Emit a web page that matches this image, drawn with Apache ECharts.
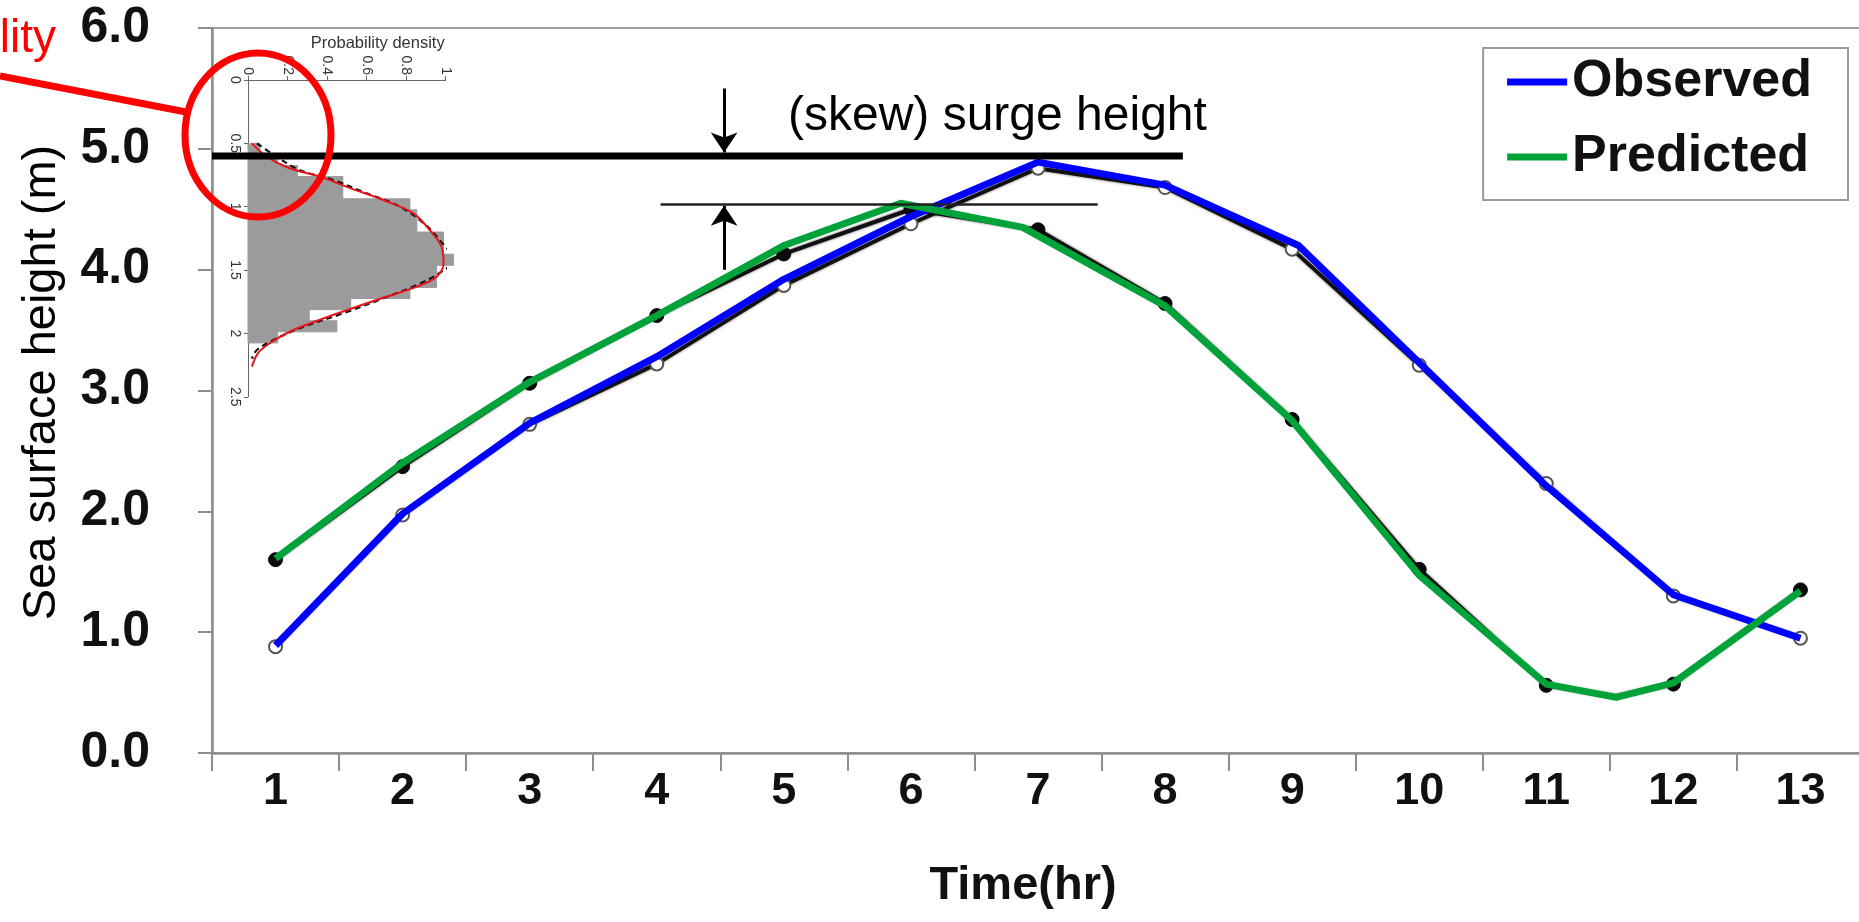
<!DOCTYPE html>
<html>
<head>
<meta charset="utf-8">
<title>Sea surface height</title>
<script src="https://cdn.jsdelivr.net/npm/echarts@6.0.0/dist/echarts.min.js"></script>
<style>
  html, body { margin: 0; padding: 0; background: #fff; }
  #chart { width: 1859px; height: 922px; }
</style>
</head>
<body>
<div id="chart"></div>
<script>
// Hours on the time axis
const hours = ['1', '2', '3', '4', '5', '6', '7', '8', '9', '10', '11', '12', '13'];

// Sea surface height (m) at each hour
const observedPts = [0.88, 1.97, 2.72, 3.22, 3.87, 4.38, 4.84, 4.68, 4.17, 3.21, 2.23, 1.30, 0.95];
const predictedPts = [1.60, 2.37, 3.06, 3.62, 4.13, 4.50, 4.33, 3.72, 2.76, 1.52, 0.56, 0.57, 1.35];
// trough of the predicted curve between hours 11 and 12
const predictedTrough = [11.55, 0.47];

// Coloured traces drawn over the markers: [hour, height]
const observedTrace = [[1, 0.89], [2, 1.98], [3, 2.73], [4, 3.28], [5, 3.92], [6, 4.44], [7, 4.89],
  [8, 4.70], [9.05, 4.20], [10, 3.23], [11, 2.21], [12, 1.31], [13, 0.95]];
const predictedTrace = [[1, 1.61], [2, 2.40], [3, 3.07], [4, 3.62], [5, 4.20], [5.92, 4.55], [6.88, 4.35],
  [8, 3.70], [9, 2.75], [10, 1.47], [11, 0.57], [11.55, 0.46], [12, 0.58], [13, 1.34]];

// Surge levels (m) and their extent along the time axis
const peakLevel = 4.94;
const peakSpan = [0.5, 8.14];
const predictedPeakLevel = 4.54;
const predictedPeakSpan = [4.03, 7.47];
const arrowHour = 4.53;
const arrowDown = [5.50, 4.97];
const arrowUp = [4.00, 4.53];

// Inset: histogram of peak heights (bin edges in m, density) and fitted curves [density, m]
const binEdges = [0.5, 0.5875, 0.675, 0.7625, 0.85, 0.9375, 1.025, 1.1125, 1.2, 1.2875, 1.375,
  1.4625, 1.55, 1.6375, 1.725, 1.8125, 1.9, 1.9875, 2.075];
const binDensity = [0.06, 0.15, 0.25, 0.48, 0.48, 0.82, 0.855, 0.855, 0.99, 0.99, 1.04,
  0.955, 0.955, 0.82, 0.52, 0.31, 0.45, 0.15];
const skewFit = [[0.02, 0.5], [0.095, 0.605], [0.21, 0.697], [0.365, 0.763], [0.52, 0.855],
  [0.685, 0.947], [0.837, 1.052], [0.92, 1.184], [0.98, 1.316], [0.99, 1.447], [0.955, 1.552],
  [0.855, 1.631], [0.65, 1.736], [0.43, 1.855], [0.23, 1.973], [0.11, 2.078], [0.05, 2.157], [0.02, 2.262]];
const normalFit = [[0.045, 0.5], [0.145, 0.605], [0.26, 0.71], [0.43, 0.789], [0.6, 0.894],
  [0.77, 1.0], [0.89, 1.131], [0.97, 1.263], [1.04, 1.421], [0.98, 1.513], [0.855, 1.618],
  [0.685, 1.723], [0.48, 1.842], [0.26, 1.96], [0.13, 2.052], [0.045, 2.131], [0.02, 2.2]];

const FONT = "'Liberation Sans', Arial, Helvetica, sans-serif";
const AXIS_GRAY = '#8e8e8e';

const bins = binDensity.map((d, i) => [binEdges[i], binEdges[i + 1], d]);

// predicted markers, with the unmarked trough vertex inserted after hour 11
const predictedMarkers = predictedPts.map((v, i) => [i + 1, v]);
predictedMarkers.splice(11, 0, { value: predictedTrough, symbol: 'none' });

const chart = echarts.init(document.getElementById('chart'), null, { renderer: 'canvas' });

const option = {
  animation: false,
  backgroundColor: '#ffffff',
  textStyle: { fontFamily: FONT },
  grid: [
    { left: 212, top: 28, width: 1652, height: 725, show: true, borderColor: '#a0a0a0', borderWidth: 2,
      backgroundColor: 'transparent', outerBoundsMode: 'none', containLabel: false },
    { left: 248, top: 80, width: 197.5, height: 316.75, show: false, outerBoundsMode: 'none', containLabel: false }
  ],
  legend: {
    data: ['Observed', 'Predicted'],
    orient: 'vertical',
    right: 11,
    top: 48,
    padding: [4, 36, 13, 24],
    itemGap: 15,
    itemWidth: 60,
    itemHeight: 7,
    icon: 'rect',
    borderColor: '#9a9a9a',
    borderWidth: 2,
    borderRadius: 0,
    backgroundColor: '#fff',
    textStyle: { fontFamily: FONT, fontSize: 52, fontWeight: 'bold', color: '#111', lineHeight: 60 }
  },
  xAxis: [
    {
      type: 'category', gridIndex: 0, data: hours, boundaryGap: true,
      name: 'Time(hr)', nameLocation: 'middle', nameGap: 110,
      nameTextStyle: { fontFamily: FONT, fontSize: 47, fontWeight: 'bold', color: '#111', padding: [0, 30, 0, 0] },
      axisLine: { lineStyle: { color: AXIS_GRAY, width: 2.5 } },
      axisTick: { show: true, alignWithLabel: false, length: 18, lineStyle: { color: AXIS_GRAY, width: 2 } },
      axisLabel: { margin: 16, fontFamily: FONT, fontSize: 45, fontWeight: 'bold', color: '#111' },
      splitLine: { show: false }
    },
    { type: 'value', gridIndex: 0, min: 0.5, max: 13.5, show: false, splitLine: { show: false } },
    {
      type: 'value', gridIndex: 1, position: 'top', min: 0, max: 1, interval: 0.2,
      name: 'Probability density', nameLocation: 'middle', nameGap: 18,
      nameTextStyle: { fontFamily: FONT, fontSize: 16.5, color: '#333', padding: [0, 0, 0, 62] },
      axisLine: { show: true, lineStyle: { color: '#666', width: 1 } },
      axisTick: { show: true, length: 4, lineStyle: { color: '#666', width: 1 } },
      axisLabel: { rotate: -90, margin: 5, fontFamily: FONT, fontSize: 14, color: '#333' },
      splitLine: { show: false }
    }
  ],
  yAxis: [
    {
      type: 'value', gridIndex: 0, min: 0, max: 6, interval: 1,
      name: 'Sea surface height (m)', nameLocation: 'middle', nameGap: 146,
      nameTextStyle: { fontFamily: FONT, fontSize: 47, color: '#000', padding: [0, 0, 0, 16] },
      axisLine: { show: true, lineStyle: { color: AXIS_GRAY, width: 2.5 } },
      axisTick: { show: true, length: 14, lineStyle: { color: AXIS_GRAY, width: 2 } },
      axisLabel: { margin: 62, fontFamily: FONT, fontSize: 50, fontWeight: 'bold', color: '#111',
        formatter: v => v.toFixed(1) },
      splitLine: { show: false }
    },
    {
      type: 'value', gridIndex: 1, min: 0, max: 2.5, interval: 0.5, inverse: true,
      axisLine: { show: true, lineStyle: { color: '#666', width: 1 } },
      axisTick: { show: true, length: 4, lineStyle: { color: '#666', width: 1 } },
      axisLabel: { rotate: -90, margin: 6, fontFamily: FONT, fontSize: 14, color: '#333' },
      splitLine: { show: false }
    }
  ],
  series: [
    // inset histogram
    {
      type: 'custom', name: 'histogram', xAxisIndex: 2, yAxisIndex: 1, z: 1,
      encode: { x: 2, y: [0, 1] },
      data: bins,
      renderItem: function (params, api) {
        const a = api.coord([0, api.value(0)]);
        const b = api.coord([api.value(2), api.value(1)]);
        return {
          type: 'rect',
          shape: { x: a[0], y: Math.min(a[1], b[1]), width: b[0] - a[0], height: Math.abs(b[1] - a[1]) },
          style: { fill: '#9b9b9b', stroke: '#9b9b9b', lineWidth: 1 }
        };
      }
    },
    {
      type: 'line', name: 'normal fit', xAxisIndex: 2, yAxisIndex: 1, z: 3,
      data: normalFit, smooth: 0.35, symbol: 'none',
      lineStyle: { color: '#111', width: 2.2, type: [6, 4] }
    },
    {
      type: 'line', name: 'skew fit', xAxisIndex: 2, yAxisIndex: 1, z: 4,
      data: skewFit, smooth: 0.35, symbol: 'none',
      lineStyle: { color: '#e8141a', width: 2 }
    },
    // markers of the two series
    {
      type: 'line', name: 'observed markers', xAxisIndex: 1, yAxisIndex: 0, z: 5,
      data: observedPts.map((v, i) => [i + 1, v]),
      symbol: 'circle', symbolSize: 13,
      itemStyle: { color: '#fff', borderColor: '#555', borderWidth: 2 },
      lineStyle: { color: '#111', width: 4, shadowBlur: 3, shadowColor: 'rgba(0,0,0,0.6)' }
    },
    {
      type: 'line', name: 'predicted markers', xAxisIndex: 1, yAxisIndex: 0, z: 5,
      data: predictedMarkers,
      symbol: 'circle', symbolSize: 14,
      itemStyle: { color: '#0a0a0a', borderColor: '#0a0a0a', borderWidth: 1 },
      lineStyle: { color: '#111', width: 4, shadowBlur: 3, shadowColor: 'rgba(0,0,0,0.6)' }
    },
    // coloured traces
    {
      type: 'line', name: 'Observed', xAxisIndex: 1, yAxisIndex: 0, z: 8,
      color: '#0000ff', data: observedTrace, symbol: 'none',
      lineStyle: { color: '#0000ff', width: 7, join: 'round' }
    },
    {
      type: 'line', name: 'Predicted', xAxisIndex: 1, yAxisIndex: 0, z: 9,
      color: '#00a33a', data: predictedTrace, symbol: 'none',
      lineStyle: { color: '#00a33a', width: 7, join: 'round' }
    },
    // surge levels
    {
      type: 'line', name: 'peak level', xAxisIndex: 1, yAxisIndex: 0, z: 10,
      data: peakSpan.map(x => [x, peakLevel]), symbol: 'none',
      lineStyle: { color: '#000', width: 7, cap: 'butt' }
    },
    {
      type: 'line', name: 'predicted peak level', xAxisIndex: 1, yAxisIndex: 0, z: 10,
      data: predictedPeakSpan.map(x => [x, predictedPeakLevel]), symbol: 'none',
      lineStyle: { color: '#222', width: 2.5 }
    },
    {
      type: 'lines', name: 'surge arrows', coordinateSystem: 'cartesian2d', xAxisIndex: 1, yAxisIndex: 0, z: 10,
      symbol: ['none', 'arrow'], symbolSize: 20,
      lineStyle: { color: '#000', width: 3, opacity: 1 },
      data: [
        { coords: arrowDown.map(y => [arrowHour, y]) },
        { coords: arrowUp.map(y => [arrowHour, y]) }
      ]
    }
  ],
  graphic: [
    {
      type: 'text', z: 50,
      style: { x: 788, y: 117, text: '(skew) surge height', font: "48px 'Liberation Sans', Arial, sans-serif",
        fill: '#000', textVerticalAlign: 'middle' }
    },
    {
      type: 'text', z: 50,
      style: { x: 56, y: 16, text: 'Probability', font: "46px 'Liberation Sans', Arial, sans-serif",
        fill: '#ff0000', textAlign: 'right', textVerticalAlign: 'top' }
    },
    {
      type: 'line', z: 60,
      shape: { x1: 0, y1: 76, x2: 186, y2: 112 },
      style: { stroke: '#ff0000', lineWidth: 7 }
    },
    {
      type: 'ellipse', z: 60,
      shape: { cx: 258, cy: 135, rx: 73, ry: 82 },
      style: { stroke: '#ff0000', lineWidth: 7, fill: null }
    }
  ]
};

chart.setOption(option);
</script>
</body>
</html>
